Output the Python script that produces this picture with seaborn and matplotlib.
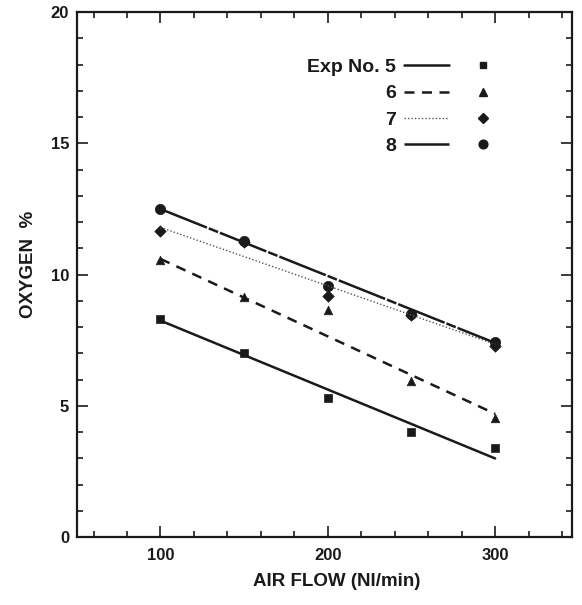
import numpy as np
import pandas as pd
import matplotlib
matplotlib.use('Agg')
import matplotlib.pyplot as plt
from matplotlib.ticker import MultipleLocator
from matplotlib.legend_handler import HandlerTuple
from matplotlib.lines import Line2D
import seaborn as sns

# measured points
air_flow = [100, 150, 200, 250, 300]
exp5 = [8.3, 7.0, 5.3, 4.0, 3.4]
exp6 = [10.55, 9.15, 8.65, 5.95, 4.55]
exp7 = [11.65, 11.25, 9.2, 8.45, 7.3]
exp8 = [12.5, 11.3, 9.55, 8.5, 7.45]

# fitted lines (end points)
fit_x = [100, 300]
fit5 = [8.25, 3.0]
fit6 = [10.6, 4.7]
fit7 = [11.8, 7.35]
fit8 = [12.5, 7.4]

exp_names = ['5', '6', '7', '8']

sns.set_style('ticks')
plt.rcParams['font.family'] = ['Liberation Sans', 'DejaVu Sans']
plt.rcParams['font.weight'] = 'bold'
plt.rcParams['axes.labelweight'] = 'bold'

fig = plt.figure(figsize=(5.82, 6.05), dpi=100)
ax = fig.add_axes([0.132, 0.112, 0.851, 0.868])

ink = '#1a1a1a'
line_styles = {
    '5': dict(ls='-', lw=1.8, color=ink),
    '6': dict(ls=(0, (4, 3)), lw=1.8, color=ink),
    '7': dict(ls=(0, (1, 1.5)), lw=1.0, color='#555555'),
    '8': dict(ls=(0, (20, 0.8, 4, 0.8)), lw=1.8, color=ink),
}
markers = {'5': 's', '6': '^', '7': 'D', '8': 'o'}
msizes = {'5': 30, '6': 38, '7': 34, '8': 55}

fits = {'5': fit5, '6': fit6, '7': fit7, '8': fit8}
for name in exp_names:
    sns.lineplot(x=fit_x, y=fits[name], ax=ax, **line_styles[name])

pts = pd.DataFrame({
    'air': air_flow * 4,
    'o2': exp5 + exp6 + exp7 + exp8,
    'exp': sum([[n] * 5 for n in exp_names], []),
})
for name in exp_names:
    sub = pts[pts['exp'] == name]
    sns.scatterplot(data=sub, x='air', y='o2', marker=markers[name],
                    s=msizes[name], color=ink, edgecolor=ink, linewidth=0.5,
                    ax=ax, legend=False)

ax.set_xlim(50, 346)
ax.set_ylim(0, 20)
ax.xaxis.set_major_locator(MultipleLocator(100))
ax.xaxis.set_minor_locator(MultipleLocator(20))
ax.yaxis.set_major_locator(MultipleLocator(5))
ax.yaxis.set_minor_locator(MultipleLocator(1))
ax.tick_params(which='both', direction='in', top=True, right=True,
               color=ink, width=1.2, labelsize=12, labelcolor=ink)
ax.tick_params(which='major', length=8)
ax.tick_params(which='minor', length=4.5)
ax.tick_params(axis='y', which='major', pad=5.5)
ax.tick_params(axis='x', which='major', pad=8)
for sp in ax.spines.values():
    sp.set_visible(True)
    sp.set_linewidth(1.6)
    sp.set_color(ink)

ax.set_xlabel('AIR FLOW (Nl/min)', fontsize=13.5, color=ink, labelpad=7, x=0.525)
ax.set_ylabel('OXYGEN  %', fontsize=13.5, color=ink, labelpad=10, y=0.52)

handles = []
for name in exp_names:
    ln = Line2D([], [], **line_styles[name])
    mk = Line2D([], [], ls='none', marker=markers[name], color=ink,
                markersize=np.sqrt(msizes[name]) * 0.85)
    handles.append((ln, mk))
labels = ['Exp No. 5', '6', '7', '8']
ax.legend(handles, labels, handler_map={tuple: HandlerTuple(ndivide=None, pad=0.6)},
          markerfirst=False, frameon=False, fontsize=14, handlelength=5.2,
          handletextpad=0.4, labelspacing=0.45, loc='upper right',
          bbox_to_anchor=(0.9, 0.945), labelcolor=ink)

fig.savefig('out.png', dpi=100)
